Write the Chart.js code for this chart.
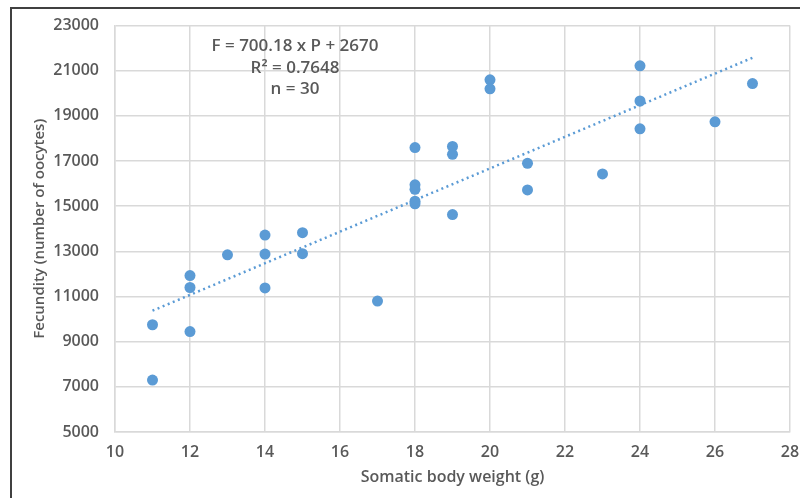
<!DOCTYPE html>
<html>
<head>
<meta charset="utf-8">
<script src="https://cdn.jsdelivr.net/npm/chart.js@4.4.1/dist/chart.umd.min.js"></script>
<style>
    html, body { margin: 0; padding: 0; background: #fff; }
    #wrap { width: 800px; height: 498px; }
</style>
</head>
<body>
<div id="wrap"><canvas id="fecundityChart" width="800" height="498"></canvas></div>
<script>
'use strict';

// somatic body weight (g) and fecundity, n = 30
var bodyWeight = [11, 11, 12, 12, 12, 13, 14, 14, 14, 15, 15, 17, 18, 18, 18,
    18, 18, 19, 19, 19, 20, 20, 21, 21, 23, 24, 24, 24, 26, 27];
var fecundity = [9750, 7300, 11930, 11400, 9450, 12850, 13720, 12880, 11380, 13830, 12900, 10800, 17600, 15950, 15750,
    15220, 15110, 17650, 17300, 14630, 20600, 20200, 16900, 15720, 16430, 21220, 19660, 18430, 18740, 20430];

// trend line end points (F = 700.18 x P + 2670)
var trendX = [11, 27];
var trendY = [10372, 21575];

var xTicks = [10, 12, 14, 16, 18, 20, 22, 24, 26, 28];
var yTicks = [5000, 7000, 9000, 11000, 13000, 15000, 17000, 19000, 21000, 23000];

var statLines = ['F = 700.18 x P + 2670', 'R\u00b2 = 0.7648', 'n = 30'];

var blue = '#5b9bd5';
var textGrey = '#595959';
var gridGrey = '#d9d9d9';
var fontFamily = '"Open Sans", "Liberation Sans", sans-serif';

var scatterPoints = bodyWeight.map(function (w, i) {
    return { x: w, y: fecundity[i] };
});
var trendPoints = trendX.map(function (w, i) {
    return { x: w, y: trendY[i] };
});

// white page with the dark frame round the figure
var framePlugin = {
    id: 'frame',
    beforeDraw: function (chart) {
        var ctx = chart.ctx;
        ctx.save();
        ctx.fillStyle = '#fff';
        ctx.fillRect(0, 0, chart.width, chart.height);
        ctx.strokeStyle = '#404040';
        ctx.lineWidth = 2;
        ctx.strokeRect(11, 8, chart.width + 20, chart.height + 20);
        ctx.restore();
    }
};

// regression text in the upper left of the plot
var statsPlugin = {
    id: 'stats',
    afterDraw: function (chart) {
        var ctx = chart.ctx;
        var area = chart.chartArea;
        ctx.save();
        ctx.fillStyle = textGrey;
        ctx.font = '600 17px ' + fontFamily;
        ctx.textAlign = 'center';
        ctx.textBaseline = 'middle';
        statLines.forEach(function (line, i) {
            ctx.fillText(line, area.left + 180, area.top + 21 + i * 21.5);
        });
        ctx.restore();
    }
};

var ctx = document.getElementById('fecundityChart').getContext('2d');

var fecundityChart = new Chart(ctx, {
    type: 'scatter',
    data: {
        datasets: [
            {
                label: 'Fecundity',
                data: scatterPoints,
                backgroundColor: blue,
                borderColor: blue,
                pointRadius: 5.5,
                pointBorderWidth: 0,
                order: 2
            },
            {
                label: 'Trend',
                type: 'line',
                data: trendPoints,
                borderColor: blue,
                borderWidth: 2.5,
                borderDash: [2, 3.5],
                pointRadius: 0,
                fill: false,
                order: 1
            }
        ]
    },
    options: {
        responsive: false,
        animation: false,
        layout: {
            padding: { left: 31, right: 10, top: 23, bottom: 11 }
        },
        plugins: {
            legend: { display: false },
            tooltip: { enabled: false }
        },
        scales: {
            x: {
                type: 'linear',
                min: 10,
                max: 28,
                afterBuildTicks: function (scale) {
                    scale.ticks = xTicks.map(function (v) { return { value: v }; });
                },
                afterFit: function (scale) {
                    scale.height = 55;
                    // the last label may hang over the right edge, like the original
                    scale.paddingRight = 0;
                },
                grid: { color: gridGrey, lineWidth: 1.5, drawTicks: false },
                border: { color: gridGrey, width: 1.5 },
                ticks: {
                    padding: 11,
                    color: textGrey,
                    font: { family: fontFamily, size: 16, weight: '600' }
                },
                title: {
                    display: true,
                    text: 'Somatic body weight (g)',
                    color: textGrey,
                    padding: 0,
                    font: { family: fontFamily, size: 16, weight: '600' }
                }
            },
            y: {
                type: 'linear',
                min: 5000,
                max: 23000,
                afterBuildTicks: function (scale) {
                    scale.ticks = yTicks.map(function (v) { return { value: v }; });
                },
                afterFit: function (scale) {
                    scale.width = 84;
                },
                grid: { color: gridGrey, lineWidth: 1.5, drawTicks: false },
                border: { color: gridGrey, width: 1.5 },
                ticks: {
                    padding: 16,
                    color: textGrey,
                    font: { family: fontFamily, size: 16, weight: '600' },
                    callback: function (v) { return String(v); }
                },
                title: {
                    display: true,
                    text: 'Fecundity (number of oocytes)',
                    color: textGrey,
                    padding: 0,
                    font: { family: fontFamily, size: 15, weight: '600' }
                }
            }
        }
    },
    plugins: [framePlugin, statsPlugin]
});
</script>
</body>
</html>
